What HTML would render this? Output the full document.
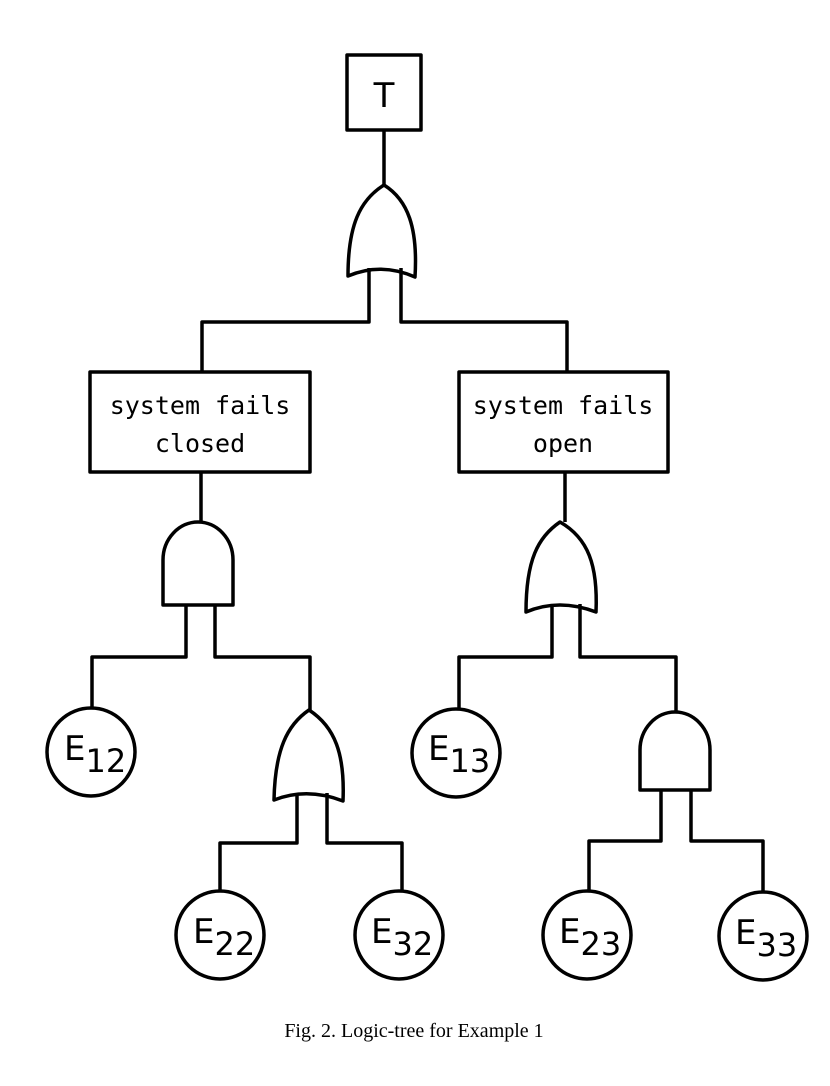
<!DOCTYPE html>
<html><head><style>
html,body{margin:0;padding:0;background:#fff;}
svg{display:block;}
</style></head><body>
<svg width="830" height="1086" viewBox="0 0 830 1086" xmlns="http://www.w3.org/2000/svg">
<g fill="none" stroke="#000" stroke-width="3.5" stroke-linejoin="round">
<!-- T box -->
<rect x="347" y="55" width="74" height="75"/>
<line x1="384" y1="130" x2="384" y2="185"/>
<!-- top OR -->
<path d="M384 185 C360 200 348 225 348 276 Q381 262 415 277 C418 228 408 200 384 185 Z"/>
<path d="M369 268 V322 H202 V371 M401 268 V322 H567 V371"/>
<!-- boxes -->
<rect x="90" y="372" width="220" height="100"/>
<rect x="459" y="372" width="209" height="100"/>
<line x1="201" y1="472" x2="201" y2="522"/>
<line x1="565" y1="472" x2="565" y2="522"/>
<!-- left AND -->
<path d="M163 605 V560 A35 38 0 0 1 233 560 V605 Z"/>
<path d="M186 605 V657 H92 V708 M215 605 V657 H310 V710"/>
<!-- right OR -->
<path d="M560 522 C538 537 526 560 526 612 Q559 598 596 612 C598 565 588 538 560 522 Z"/>
<path d="M552 604 V657 H459 V709 M580 604 V657 H676 V712"/>
<!-- E12, E13 -->
<circle cx="91" cy="752" r="44"/>
<circle cx="456" cy="753" r="44"/>
<!-- left OR2 -->
<path d="M309 710 C287 725 275 750 274 800 Q307 787 343 801 C345 754 335 727 309 710 Z"/>
<path d="M297 793 V843 H220 V891 M327 793 V843 H402 V891"/>
<!-- right AND2 -->
<path d="M640 790 V750 A35 38 0 0 1 710 750 V790 Z"/>
<path d="M661 790 V841 H589 V891 M691 790 V841 H763 V892"/>
<circle cx="220" cy="935" r="44"/>
<circle cx="399" cy="935" r="44"/>
<circle cx="587" cy="935" r="44"/>
<circle cx="763" cy="936" r="44"/>
</g>
<g font-family="'DejaVu Sans Mono','Liberation Mono',monospace" font-size="25" fill="#000" text-anchor="middle">
<text x="200" y="414">system fails</text>
<text x="200" y="452">closed</text>
<text x="563" y="414">system fails</text>
<text x="563" y="452">open</text>
</g>
<g font-family="'DejaVu Sans','Liberation Sans',sans-serif" fill="#000">
<text x="384" y="107" font-size="34" text-anchor="middle">T</text>
<text x="64" y="760" font-size="34">E<tspan font-size="32" dy="12">12</tspan></text>
<text x="428" y="760" font-size="34">E<tspan font-size="32" dy="12">13</tspan></text>
<text x="193" y="943" font-size="34">E<tspan font-size="32" dy="12">22</tspan></text>
<text x="371" y="943" font-size="34">E<tspan font-size="32" dy="12">32</tspan></text>
<text x="559" y="943" font-size="34">E<tspan font-size="32" dy="12">23</tspan></text>
<text x="735" y="944" font-size="34">E<tspan font-size="32" dy="12">33</tspan></text>
</g>
<text x="414" y="1037" font-family="'Liberation Serif',serif" font-size="20" text-anchor="middle" fill="#000">Fig. 2.  Logic-tree for Example 1</text>
</svg>
</body></html>
